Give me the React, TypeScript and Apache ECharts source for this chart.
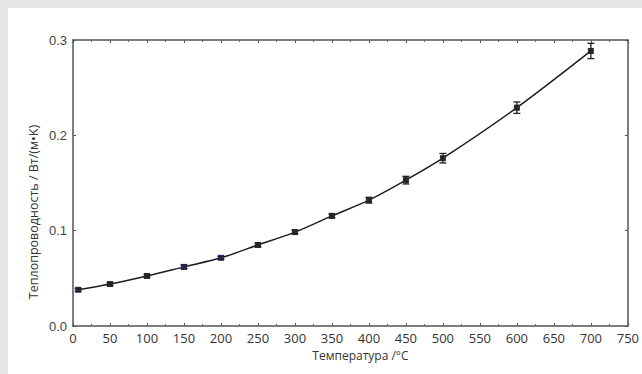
import React, { useEffect, useRef } from "react";
import * as echarts from "echarts";

const temperatures = [7, 50, 100, 150, 200, 250, 300, 350, 400, 450, 500, 600, 700];
const conductivity = [0.038, 0.044, 0.0525, 0.062, 0.0715, 0.085, 0.0985, 0.1155, 0.132, 0.153, 0.176, 0.229, 0.2885];
const errors = [0.0015, 0.0015, 0.0015, 0.002, 0.0015, 0.002, 0.002, 0.002, 0.003, 0.004, 0.005, 0.006, 0.008];
const markerColors = ["#2b2a70", "#2a2a2a", "#2a2a2a", "#2b2a70", "#2b2a70", "#2a2a2a", "#2a2a2a", "#2a2a2a", "#2a2a2a", "#2a2a2a", "#2a2a2a", "#2a2a2a", "#2a2a2a"];
const xTitle = "Температура /°C";
const yTitle = "Теплопроводность / Вт/(м•K)";

export default function App() {
  const ref = useRef<HTMLDivElement>(null);
  useEffect(() => {
    if (!ref.current) return;
    const chart = echarts.init(ref.current, null, { renderer: "svg" });
    const axisLine = { show: true, onZero: false, lineStyle: { color: "#555", width: 1.5 } };
    const tick = { show: true, inside: true, length: 3, lineStyle: { color: "#555" } };
    const minor = { show: true, splitNumber: 2, length: 2, lineStyle: { color: "#666" } };
    const option: any = {
      animation: false,
      backgroundColor: "#ffffff",
      grid: { left: 65, right: 5, top: 32, bottom: 48, containLabel: false },
      xAxis: [
        {
          type: "value",
          min: 0,
          max: 750,
          interval: 50,
          position: "bottom",
          axisLine,
          axisTick: tick,
          minorTick: minor,
          splitLine: { show: false },
          axisLabel: {
            color: "#333",
            fontSize: 13,
            fontFamily: "'Liberation Sans Narrow', 'Open Sans', sans-serif",
            margin: 5,
            showMinLabel: true,
            showMaxLabel: true,
          },
          name: xTitle,
          nameLocation: "middle",
          nameGap: 23,
          nameTextStyle: { color: "#333", fontSize: 12, fontFamily: "'Open Sans', sans-serif", padding: [0, 0, 0, 20] },
        },
        {
          type: "value",
          min: 0,
          max: 750,
          interval: 50,
          position: "top",
          axisLine,
          axisTick: tick,
          minorTick: minor,
          splitLine: { show: false },
          axisLabel: { show: false },
        },
      ],
      yAxis: [
        {
          type: "value",
          min: 0,
          max: 0.3,
          interval: 0.1,
          position: "left",
          axisLine,
          axisTick: tick,
          splitLine: { show: false },
          axisLabel: {
            color: "#444",
            fontSize: 13,
            fontFamily: "'Liberation Sans', sans-serif",
            margin: 6,
            formatter: (v: number) => v.toFixed(1),
          },
        },
        {
          type: "value",
          min: 0,
          max: 0.3,
          interval: 0.1,
          position: "right",
          axisLine,
          axisTick: tick,
          splitLine: { show: false },
          axisLabel: { show: false },
        },
      ],
      graphic: [
        {
          type: "text",
          x: 25,
          y: 204,
          rotation: Math.PI / 2,
          style: {
            text: yTitle,
            fill: "#333",
            fontSize: 12.5,
            fontFamily: "'Open Sans', sans-serif",
            textAlign: "center",
            textVerticalAlign: "middle",
          },
        },
      ],
      series: [
        {
          type: "line",
          smooth: 0.3,
          xAxisIndex: 0,
          yAxisIndex: 0,
          data: temperatures.map((t, i) => ({
            value: [t, conductivity[i]],
            itemStyle: { color: markerColors[i] },
          })),
          symbol: "rect",
          symbolSize: 6,
          lineStyle: { color: "#1e1e1e", width: 1.5 },
          itemStyle: { color: "#2a2a2a" },
          z: 3,
        },
        {
          type: "custom",
          xAxisIndex: 0,
          yAxisIndex: 0,
          data: temperatures.map((t, i) => [t, conductivity[i] - errors[i], conductivity[i] + errors[i]]),
          renderItem: (params: any, api: any) => {
            const x = api.value(0);
            const lo = api.coord([x, api.value(1)]);
            const hi = api.coord([x, api.value(2)]);
            const w = 3.5;
            const style = { stroke: "#222", lineWidth: 1.3 };
            return {
              type: "group",
              children: [
                { type: "line", shape: { x1: lo[0], y1: lo[1], x2: hi[0], y2: hi[1] }, style },
                { type: "line", shape: { x1: lo[0] - w, y1: lo[1], x2: lo[0] + w, y2: lo[1] }, style },
                { type: "line", shape: { x1: hi[0] - w, y1: hi[1], x2: hi[0] + w, y2: hi[1] }, style },
              ],
            };
          },
          z: 4,
        },
      ],
    };
    chart.setOption(option);
    return () => chart.dispose();
  }, []);

  return (
    <div style={{ position: "fixed", left: 0, top: 0, width: 642, height: 374, background: "#e7e7e7" }}>
      <div ref={ref} style={{ position: "absolute", left: 8, top: 8, width: 634, height: 366, background: "#fff" }} />
    </div>
  );
}
